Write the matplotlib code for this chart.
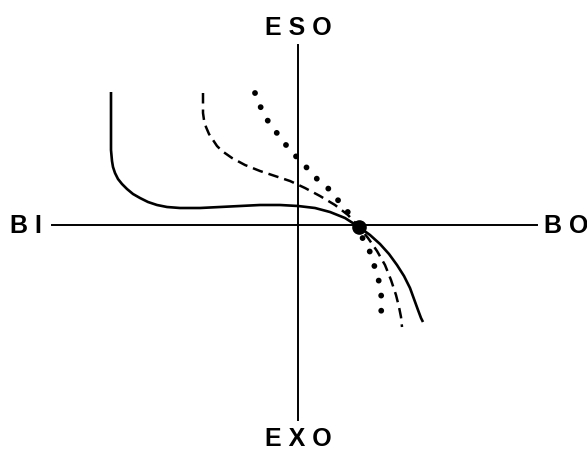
import matplotlib.pyplot as plt

# solid curve
solid_x = [-187, -187, -187, -186, -185, -183, -180, -176, -171, -165, -158, -150, -141,
           -131, -118, -98, -78, -58, -38, -18, 0, 17, 32, 47, 61, 72, 82, 91, 99,
           106, 112, 116, 120, 123, 125]
solid_y = [133, 105, 75, 64, 58, 52, 46, 41, 36, 31, 27, 23, 20,
           18, 17, 17, 18, 19, 20, 20, 19, 17, 13, 7, -2, -10, -19, -29, -40,
           -51, -63, -74, -85, -93, -97]

# dashed curve
dash_x = [-95, -95, -94, -92, -89, -85, -81, -76, -66, -53, -38, -23, -8, 7, 22, 37, 50, 61,
          70, 79, 87, 93, 98, 101, 103, 104]
dash_y = [132, 112, 105, 98, 91, 85, 79, 74, 67, 60, 54, 49, 44, 37, 29, 20, 10, -2,
          -13, -26, -40, -55, -70, -82, -92, -102]

# dotted curve
dot_x = [-43, -37, -29, -18, -9, 10, 20, 32, 43, 54, 61, 64, 72, 77, 82, 84, 82]
dot_y = [132, 117, 102, 88, 76, 56, 45, 35, 21, 8, -2, -12, -27, -43, -60, -78, -98]

# common crossing point
cross = (61, -2)

fig = plt.figure(figsize=(5.87, 4.5), dpi=100)
ax = fig.add_axes([0, 0, 1, 1])
ax.set_xlim(-298, 289)
ax.set_ylim(-225, 225)
ax.axis('off')

# axes cross
ax.plot([-246, 239], [0, 0], color='black', lw=1.4)
ax.plot([0, 0], [-195, 180], color='black', lw=1.4)

ax.plot(solid_x, solid_y, color='black', lw=1.9, solid_capstyle='butt')
ax.plot(dash_x, dash_y, color='black', lw=1.8, dashes=(4.2, 2.4))
ax.plot(dot_x, dot_y, color='black', lw=4.2, linestyle=(0, (0.01, 2.6)),
        dash_capstyle='round')
ax.plot(*cross, 'o', color='black', markersize=9.5)

font = dict(family='Liberation Sans', fontsize=18, fontweight='bold',
            ha='center', va='center')
ax.text(0, 197, 'E S O', **font)
ax.text(0, -214, 'E X O', **font)
ax.text(-272, -1, 'B I', **font)
ax.text(268, -1, 'B O', **font)

fig.savefig('out.png', dpi=100)
